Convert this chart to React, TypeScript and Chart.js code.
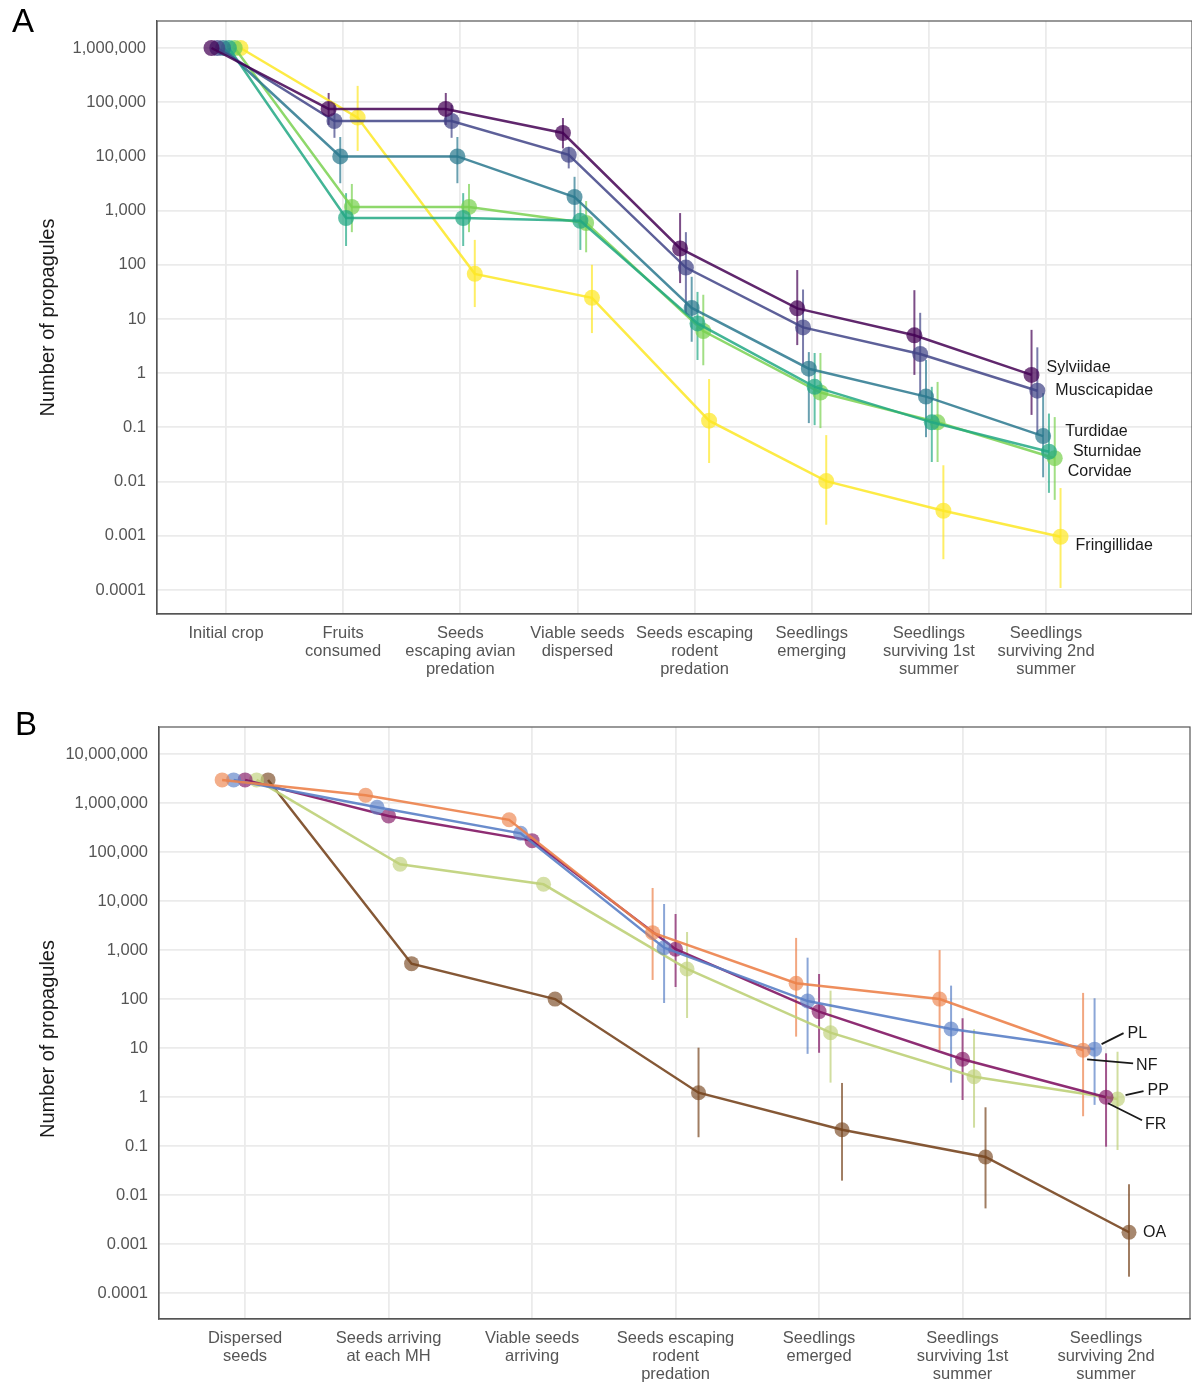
import React, { useEffect, useRef } from 'react';
import { Chart, registerables } from 'chart.js';

Chart.register(...registerables);

const FONT = '"Liberation Sans", Arial, Helvetica, sans-serif';

// ---------------- Panel A data ----------------
const stagesA = [
  ['Initial crop'],
  ['Fruits', 'consumed'],
  ['Seeds', 'escaping avian', 'predation'],
  ['Viable seeds', 'dispersed'],
  ['Seeds escaping', 'rodent', 'predation'],
  ['Seedlings', 'emerging'],
  ['Seedlings', 'surviving 1st', 'summer'],
  ['Seedlings', 'surviving 2nd', 'summer'],
];
const yTickValuesA = [1e-4, 1e-3, 1e-2, 1e-1, 1, 10, 100, 1e3, 1e4, 1e5, 1e6];
const yTickLabelsA = ['0.0001', '0.001', '0.01', '0.1', '1', '10', '100', '1,000', '10,000', '100,000', '1,000,000'];

const familiesA = ['Sylviidae', 'Muscicapidae', 'Turdidae', 'Sturnidae', 'Corvidae', 'Fringillidae'];

const sylviidae = [1e6, 75000, 75000, 27000, 200, 15.7, 5.0, 0.93];
const sylviidaeLo = [null, 38000, 38000, 14000, 46, 3.3, 0.93, 0.17];
const sylviidaeHi = [null, 148000, 148000, 51000, 900, 80, 34, 6.3];

const muscicapidae = [1e6, 45000, 45000, 10700, 89, 7.0, 2.26, 0.475];
const muscicapidaeLo = [null, 22000, 22000, 6000, 12, 1.4, 0.4, 0.074];
const muscicapidaeHi = [null, 90000, 90000, 15000, 400, 35, 13, 3.0];

const turdidae = [1e6, 10000, 10000, 1780, 16, 1.21, 0.37, 0.069];
const turdidaeLo = [null, 3200, 3200, 670, 3.8, 0.12, 0.066, 0.012];
const turdidaeHi = [null, 22800, 22800, 4200, 60, 2.45, 1.75, 0.43];

const sturnidae = [1e6, 730, 730, 650, 8.3, 0.56, 0.124, 0.0356];
const sturnidaeLo = [null, 222, 222, 188, 1.75, 0.11, 0.023, 0.0062];
const sturnidaeHi = [null, 2100, 2100, 1570, 31.6, 2.36, 0.56, 0.18];

const corvidae = [1e6, 1170, 1170, 590, 6.0, 0.44, 0.124, 0.027];
const corvidaeLo = [null, 400, 400, 170, 1.4, 0.097, 0.023, 0.0046];
const corvidaeHi = [null, 3100, 3100, 1500, 28, 2.36, 0.69, 0.155];

const fringillidae = [1e6, 52000, 68, 24.6, 0.133, 0.0102, 0.0029, 0.00096];
const fringillidaeLo = [null, 12600, 16.6, 5.5, 0.022, 0.0016, 0.00037, 0.000109];
const fringillidaeHi = [null, 200000, 288, 100, 0.78, 0.072, 0.02, 0.0076];

// ---------------- Panel B data ----------------
const stagesB = [
  ['Dispersed', 'seeds'],
  ['Seeds arriving', 'at each MH'],
  ['Viable seeds', 'arriving'],
  ['Seeds escaping', 'rodent', 'predation'],
  ['Seedlings', 'emerged'],
  ['Seedlings', 'surviving 1st', 'summer'],
  ['Seedlings', 'surviving 2nd', 'summer'],
];
const yTickValuesB = [1e-4, 1e-3, 1e-2, 1e-1, 1, 10, 100, 1e3, 1e4, 1e5, 1e6, 1e7];
const yTickLabelsB = ['0.0001', '0.001', '0.01', '0.1', '1', '10', '100', '1,000', '10,000', '100,000', '1,000,000', '10,000,000'];

const habitatsB = ['NF', 'PL', 'FR', 'PP', 'OA'];

const nf = [3.0e6, 1.46e6, 4.6e5, 2290, 212, 101, 9.1];
const nfLo = [null, null, null, 248, 17.3, 9.2, 0.41];
const nfHi = [null, null, null, 18700, 1790, 1010, 135];

const pl = [3.0e6, 8.3e5, 2.44e5, 1130, 92, 24.8, 9.6];
const plLo = [null, null, null, 84, 7.7, 1.99, 0.7];
const plHi = [null, null, null, 8800, 707, 190, 105];

const fr = [3.0e6, 5.5e5, 1.73e5, 1050, 56, 5.97, 1.0];
const frLo = [null, null, null, 178, 8.1, 0.88, 0.098];
const frHi = [null, null, null, 5500, 328, 41, 7.9];

const pp = [3.0e6, 57000, 22200, 416, 20.8, 2.63, 0.92];
const ppLo = [null, null, null, 41.5, 1.99, 0.24, 0.084];
const ppHi = [null, null, null, 2360, 150, 24.4, 8.5];

const oa = [3.0e6, 533, 101, 1.24, 0.218, 0.0605, 0.00176];
const oaLo = [null, null, null, 0.153, 0.0199, 0.0054, 0.000218];
const oaHi = [null, null, null, 10.3, 1.96, 0.625, 0.0168];

// ---------------- styles ----------------
const colorsA = [
  [68, 1, 84],
  [65, 68, 135],
  [42, 120, 142],
  [34, 168, 132],
  [122, 209, 81],
  [253, 231, 37],
];
const colorsB = [
  [236, 130, 75],
  [90, 128, 198],
  [130, 22, 100],
  [190, 208, 120],
  [120, 70, 32],
];
// label placement relative to the last point (pixels)
const labelOffsetA = [[15, -7], [18, 0], [22, -5], [24, 0], [13, 13], [15, 9]];
const labelOffsetB = [[53, 15], [33, -16], [39, 27], [30, -8], [14, 0]];
const leaderB = [
  [[4, 9], [50, 13]],
  [[7, -5], [29, -16]],
  [[2, 6], [36, 23]],
  [[8, -4], [26, -8]],
  null,
];

const rgba = (c: number[], a: number) => `rgba(${c[0]},${c[1]},${c[2]},${a})`;

const errorBarPlugin = {
  id: 'errorBars',
  beforeDatasetsDraw(chart: any) {
    const ctx = chart.ctx;
    const yScale = chart.scales.y;
    chart.data.datasets.forEach((ds: any, di: number) => {
      const meta = chart.getDatasetMeta(di);
      ctx.save();
      ctx.strokeStyle = ds.errColor;
      ctx.lineWidth = ds.errWidth;
      meta.data.forEach((pt: any, i: number) => {
        const lo = ds.errLo[i];
        const hi = ds.errHi[i];
        if (lo == null || hi == null) return;
        ctx.beginPath();
        ctx.moveTo(pt.x, yScale.getPixelForValue(lo));
        ctx.lineTo(pt.x, yScale.getPixelForValue(hi));
        ctx.stroke();
      });
      ctx.restore();
    });
  },
};

const framePlugin = {
  id: 'frame',
  beforeDatasetsDraw(chart: any, _args: any, opts: any) {
    const { ctx, chartArea } = chart;
    ctx.save();
    ctx.strokeStyle = opts.color || '#555';
    ctx.lineWidth = 1.2;
    ctx.strokeRect(chartArea.left, chartArea.top, chartArea.right - chartArea.left, chartArea.bottom - chartArea.top);
    ctx.restore();
  },
};

const yTitlePlugin = {
  id: 'yTitle',
  afterDraw(chart: any, _args: any, opts: any) {
    const { ctx, chartArea } = chart;
    ctx.save();
    ctx.translate(opts.x, (chartArea.top + chartArea.bottom) / 2 + opts.dy);
    ctx.rotate(-Math.PI / 2);
    ctx.fillStyle = '#1a1a1a';
    ctx.font = `20px ${FONT}`;
    ctx.textAlign = 'center';
    ctx.textBaseline = 'middle';
    ctx.fillText(opts.text, 0, 0);
    ctx.restore();
  },
};

const endLabelPlugin = {
  id: 'endLabels',
  afterDatasetsDraw(chart: any) {
    const ctx = chart.ctx;
    chart.data.datasets.forEach((ds: any, di: number) => {
      const meta = chart.getDatasetMeta(di);
      const last = meta.data[meta.data.length - 1];
      if (!last || !ds.endLabel) return;
      ctx.save();
      if (ds.leader) {
        ctx.strokeStyle = '#1a1a1a';
        ctx.lineWidth = 1.8;
        ctx.beginPath();
        ctx.moveTo(last.x + ds.leader[0][0], last.y + ds.leader[0][1]);
        ctx.lineTo(last.x + ds.leader[1][0], last.y + ds.leader[1][1]);
        ctx.stroke();
      }
      ctx.fillStyle = '#1a1a1a';
      ctx.font = `16px ${FONT}`;
      ctx.textAlign = 'left';
      ctx.textBaseline = 'middle';
      ctx.fillText(ds.endLabel, last.x + ds.labelOffset[0], last.y + ds.labelOffset[1]);
      ctx.restore();
    });
  },
};

function tickLabel(values: number[], labels: string[], v: number) {
  const i = values.findIndex((t) => Math.abs(Math.log10(t) - Math.log10(v)) < 1e-6);
  return i >= 0 ? labels[i] : '';
}

function buildConfig(p: any) {
  const n = p.series.length;
  const datasets = p.series.map((vals: number[], si: number) => {
    const off = (si - (n - 1) / 2) * p.dodge;
    const c = p.colors[si];
    return {
      label: p.names[si],
      data: vals.map((v, i) => ({ x: i + 1 + off, y: v })),
      borderColor: rgba(c, p.lineAlpha),
      borderWidth: 2.5,
      pointRadius: p.pointRadius,
      pointHoverRadius: p.pointRadius,
      pointBorderWidth: 0,
      pointBackgroundColor: rgba(c, p.pointAlpha),
      tension: 0,
      clip: false,
      errLo: p.lo[si],
      errHi: p.hi[si],
      errColor: rgba(c, 0.7),
      errWidth: 2,
      endLabel: p.names[si],
      labelOffset: p.labelOffset[si],
      leader: p.leader ? p.leader[si] : null,
    };
  });
  return {
    type: 'line',
    data: { datasets },
    plugins: [errorBarPlugin, framePlugin, endLabelPlugin, yTitlePlugin],
    options: {
      animation: false,
      responsive: false,
      devicePixelRatio: 1,
      layout: { autoPadding: false, padding: { top: p.padTop, right: p.padRight, left: 0, bottom: 0 } },
      plugins: {
        legend: { display: false },
        tooltip: { enabled: false },
        frame: { color: '#555' },
        yTitle: { text: 'Number of propagules', x: 48, dy: p.titleDy },
      },
      scales: {
        x: {
          type: 'linear',
          min: p.xMin,
          max: p.xMax,
          bounds: 'data',
          afterBuildTicks: (s: any) => {
            s.ticks = p.stages.map((_: any, i: number) => ({ value: i + 1 }));
          },
          afterFit: (s: any) => {
            s.height = p.xHeight;
          },
          ticks: {
            autoSkip: false,
            maxRotation: 0,
            minRotation: 0,
            padding: 10,
            color: '#555',
            font: { family: FONT, size: 16.5, lineHeight: 1.1 },
            callback: (v: number) => p.stages[Math.round(v) - 1] ?? '',
          },
          grid: { color: '#ebebeb', lineWidth: 1.8, drawTicks: false },
          border: { display: true, color: '#555', width: 1.2 },
        },
        y: {
          type: 'logarithmic',
          min: p.yMin,
          max: p.yMax,
          bounds: 'data',
          afterBuildTicks: (s: any) => {
            s.ticks = p.yTicks.map((v: number) => ({ value: v }));
          },
          afterFit: (s: any) => {
            s.width = p.yWidth;
          },
          ticks: {
            padding: 11,
            color: '#555',
            font: { family: FONT, size: 16.5 },
            callback: (v: number) => tickLabel(p.yTicks, p.yLabels, v),
          },
          grid: { color: '#ebebeb', lineWidth: 1.8, drawTicks: false },
          border: { display: true, color: '#555', width: 1.2 },
        },
      },
    },
  };
}

function ChartCanvas({ config, width, height, top }: any) {
  const ref = useRef<HTMLCanvasElement | null>(null);
  useEffect(() => {
    if (!ref.current) return;
    const chart = new Chart(ref.current, config);
    return () => chart.destroy();
  }, []);
  return (
    <canvas
      ref={ref}
      width={width}
      height={height}
      style={{ position: 'absolute', left: 0, top, width, height, display: 'block' }}
    />
  );
}

export default function App() {
  const configA = buildConfig({
    stages: stagesA,
    names: familiesA,
    series: [sylviidae, muscicapidae, turdidae, sturnidae, corvidae, fringillidae],
    lo: [sylviidaeLo, muscicapidaeLo, turdidaeLo, sturnidaeLo, corvidaeLo, fringillidaeLo],
    hi: [sylviidaeHi, muscicapidaeHi, turdidaeHi, sturnidaeHi, corvidaeHi, fringillidaeHi],
    colors: colorsA,
    labelOffset: labelOffsetA,
    leader: null,
    dodge: 0.0495,
    pointRadius: 8,
    pointAlpha: 0.72,
    lineAlpha: 0.85,
    xMin: 0.411,
    xMax: 9.246,
    yMin: Math.pow(10, -4.443),
    yMax: Math.pow(10, 6.498),
    yTicks: yTickValuesA,
    yLabels: yTickLabelsA,
    padTop: 21,
    padRight: 0,
    xHeight: 86,
    yWidth: 157,
    titleDy: 0,
  });
  const configB = buildConfig({
    stages: stagesB,
    names: habitatsB,
    series: [nf, pl, fr, pp, oa],
    lo: [nfLo, plLo, frLo, ppLo, oaLo],
    hi: [nfHi, plHi, frHi, ppHi, oaHi],
    colors: colorsB,
    labelOffset: labelOffsetB,
    leader: leaderB,
    dodge: 0.08,
    pointRadius: 7.5,
    pointAlpha: 0.65,
    lineAlpha: 0.9,
    xMin: 0.4,
    xMax: 7.585,
    yMin: Math.pow(10, -4.525),
    yMax: Math.pow(10, 7.557),
    yTicks: yTickValuesB,
    yLabels: yTickLabelsB,
    padTop: 27,
    padRight: 2,
    xHeight: 63,
    yWidth: 159,
    titleDy: 16,
  });
  return (
    <div style={{ position: 'absolute', left: 0, top: 0, width: 1192, height: 1382, background: '#fff', overflow: 'hidden' }}>
      <ChartCanvas config={configA} width={1192} height={700} top={0} />
      <ChartCanvas config={configB} width={1192} height={682} top={700} />
      <div style={{ position: 'absolute', left: 12, top: 4, fontFamily: FONT, fontSize: 33, lineHeight: 1, color: '#000' }}>A</div>
      <div style={{ position: 'absolute', left: 15, top: 707, fontFamily: FONT, fontSize: 33, lineHeight: 1, color: '#000' }}>B</div>
    </div>
  );
}
